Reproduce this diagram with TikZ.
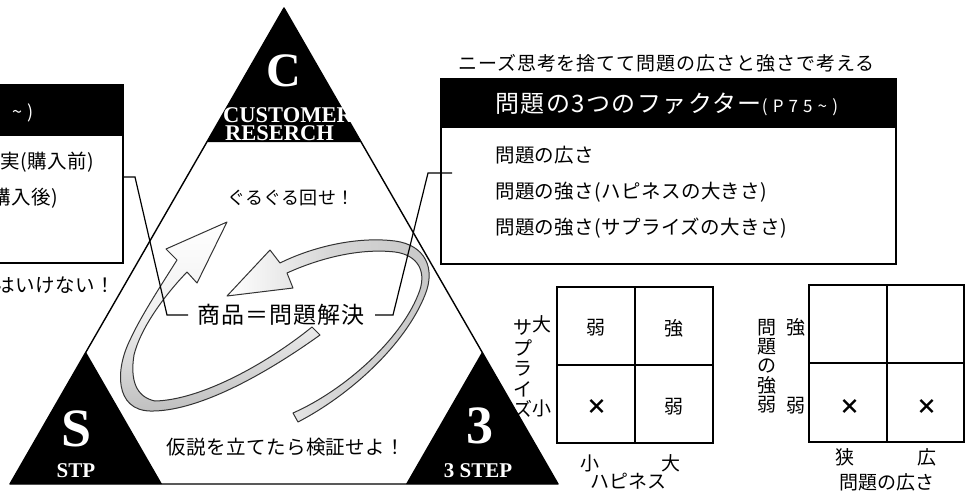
\documentclass[tikz,border=0pt]{standalone}
\usepackage{fontspec}
\setmainfont{Liberation Serif}
\newfontfamily\jp{Noto Sans CJK JP}
\newfontfamily\jpa[LetterSpace=5]{Noto Sans CJK JP}
\newfontfamily\jpb[LetterSpace=6]{Noto Sans CJK JP}
\newfontfamily\jpc[LetterSpace=30]{Noto Sans CJK JP}
\newfontfamily\jpd[LetterSpace=2]{Noto Sans CJK JP}
\newfontfamily\jpe[LetterSpace=2]{Noto Sans CJK JP}
\newfontfamily\jpf[LetterSpace=4]{Noto Sans CJK JP}
\newcommand\fsz[1]{\fontsize{#1}{#1}\selectfont}
\begin{document}
\begin{tikzpicture}[x=1pt,y=-1pt]
\useasboundingbox (0,0) rectangle (972,493);
\tikzset{
  band/.style={draw=black!80, line width=1pt, line join=round},
  frame/.style={draw=black, line width=1.4pt, line join=round},
  lead/.style={draw=black, line width=1.2pt},
  cellline/.style={draw=black, line width=1.5pt},
  boxline/.style={draw=black, line width=1.5pt},
  jt/.style={inner sep=0pt},
  bigw/.style={inner sep=0pt, text=white, font=\bfseries\fsz{#1}},
}
% ---------- curved arrows ----------
\path[band, top color=white, bottom color=black!25, middle color=black!6]
  (312,327) -- (320,335)
  .. controls (260,378) and (195,412) .. (150,411)
  .. controls (115,410) and (115,370) .. (130,340)
  .. controls (140,318) and (158,290) .. (177,260)
  -- (166,249) -- (227,222) -- (197,283) -- (187,272)
  .. controls (162,298) and (140,330) .. (134,355)
  .. controls (130,380) and (136,397) .. (155,401)
  .. controls (200,400) and (265,365) .. (312,327) -- cycle;
\path[band, left color=white, right color=black!22, middle color=black!16]
  (293,413) -- (298,422)
  .. controls (350,395) and (405,345) .. (425,295)
  .. controls (436,268) and (425,245) .. (395,241)
  .. controls (355,236) and (310,248) .. (280,263)
  -- (270,250) -- (227,296) -- (293,288) -- (287,273)
  .. controls (320,258) and (360,248) .. (395,252)
  .. controls (418,255) and (428,272) .. (418,295)
  .. controls (400,340) and (345,390) .. (293,413) -- cycle;
% ---------- triangle ----------
\coordinate (T) at (284,8);
\coordinate (L) at (10,484);
\coordinate (R) at (558,484);
\draw[frame] (T) -- (L) -- (R) -- cycle;
\fill (T) -- (206.9,142) -- (361.1,142) -- cycle;
\fill (L) -- (86,352) -- (162,484) -- cycle;
\fill (R) -- (482,352) -- (406,484) -- cycle;
% ---------- right box ----------
\fill (440,78) rectangle (897,127);
\draw[boxline] (441,127) rectangle (896,264);
% ---------- left box ----------
\fill (-5,84) rectangle (124,135);
\draw[boxline] (-5,135) rectangle (123,263);
% ---------- leaders ----------
\node[jt, font=\jpf\fsz{23}] (hub) at (281,315) {商品＝問題解決};
\coordinate (la) at (188,315);
\coordinate (lb) at (167,315);
\coordinate (lc) at (135,177);
\coordinate (ld) at (123,177);
\draw[lead] (la) -- (lb) -- (lc) -- (ld);
\coordinate (ra) at (375,315);
\coordinate (rb) at (393,315);
\coordinate (rc) at (428,173);
\coordinate (rd) at (452,173);
\draw[lead] (ra) -- (rb) -- (rc) -- (rd);
% ---------- texts ----------
\node[jt, anchor=west, font=\jpa\fsz{19}] (title) at (458,63) {ニーズ思考を捨てて問題の広さと強さで考える};
\node[jt, anchor=west, text=white, font=\jpb\fsz{24}] (rhead) at (495,104) {問題の3つのファクター{\jpc\fsz{17}(P75\textasciitilde)}};
\node[jt, anchor=west, font=\jpd\fsz{19.5}] (r1) at (495,155) {問題の広さ};
\node[jt, anchor=west, font=\jpd\fsz{19.5}] (r2) at (495,192) {問題の強さ(ハピネスの大きさ)};
\node[jt, anchor=west, font=\jpd\fsz{19.5}] (r3) at (495,228) {問題の強さ(サプライズの大きさ)};
\node[jt, anchor=east, text=white, font=\jpc\fsz{18}] (lhead) at (34,113) {\textasciitilde)};
\node[jt, anchor=east, font=\jpd\fsz{19.5}] (l1) at (94,162) {実(購入前)};
\node[jt, anchor=east, font=\jpd\fsz{19.5}] (l2) at (58,198) {購入後)};
\node[jt, anchor=east, font=\jpd\fsz{19.5}] (l3) at (115,285) {はいけない！};
\node[jt, font=\jpe\fsz{18}] (round) at (291,198) {ぐるぐる回せ！};
\node[jt, font=\jpe\fsz{19.5}] (verify) at (286,447) {仮説を立てたら検証せよ！};
% ---------- serif labels ----------
\node[bigw=48] (cbig) at (284,71) {C};
\node[bigw=22.5, anchor=base west] (cust) at (223,122) {CUSTOMER};
\node[bigw=22.5, anchor=base west] (rese) at (225,140) {RESERCH};
\node[bigw=54] (sbig) at (77,429) {S};
\node[bigw=21, anchor=base] (stp) at (76,477) {STP};
\node[bigw=54] (tbig) at (480,426) {3};
\node[bigw=21, anchor=base] (tstep) at (478,477) {3 STEP};
% ---------- matrix 1 ----------
\draw[cellline] (557,287) rectangle (713,443);
\draw[cellline] (635,287) -- (635,443);
\draw[cellline] (557,365) -- (713,365);
\node[jt, font=\jp\fsz{19}] (m1a) at (596,328) {弱};
\node[jt, font=\jp\fsz{19}] (m1b) at (674,328) {強};
\node[jt, font=\jp\bfseries\fsz{21}] (m1c) at (597,407) {×};
\node[jt, font=\jp\fsz{19}] (m1d) at (674,407) {弱};
\node[jt, font=\jp\fsz{19}] (m1big) at (542,324) {大};
\node[jt, font=\jp\fsz{19}] (m1sml) at (542,408) {小};
\node[jt, align=center, font=\jp\fontsize{19}{20.5}\selectfont] (m1v) at (523,369) {サ\\プ\\ラ\\イ\\ズ};
\node[jt, font=\jp\fsz{19}] (m1x1) at (590,463) {小};
\node[jt, font=\jp\fsz{19}] (m1x2) at (671,463) {大};
\node[jt, font=\jp\fsz{19}] (m1xl) at (628,481) {ハピネス};
% ---------- matrix 2 ----------
\draw[cellline] (809,285) rectangle (964,442);
\draw[cellline] (887,285) -- (887,442);
\draw[cellline] (809,363) -- (964,363);
\node[jt, font=\jp\bfseries\fsz{21}] (m2c) at (850,407) {×};
\node[jt, font=\jp\bfseries\fsz{21}] (m2d) at (927,407) {×};
\node[jt, font=\jp\fsz{19}] (m2s) at (796,327) {強};
\node[jt, font=\jp\fsz{19}] (m2w) at (796,406) {弱};
\node[jt, align=center, font=\jp\fontsize{19}{19.25}\selectfont] (m2v) at (767,366) {問\\題\\の\\強\\弱};
\node[jt, font=\jp\fsz{19}] (m2x1) at (845,457) {狭};
\node[jt, font=\jp\fsz{19}] (m2x2) at (927,457) {広};
\node[jt, font=\jp\fsz{19}] (m2xl) at (887,482) {問題の広さ};
\end{tikzpicture}
\end{document}
